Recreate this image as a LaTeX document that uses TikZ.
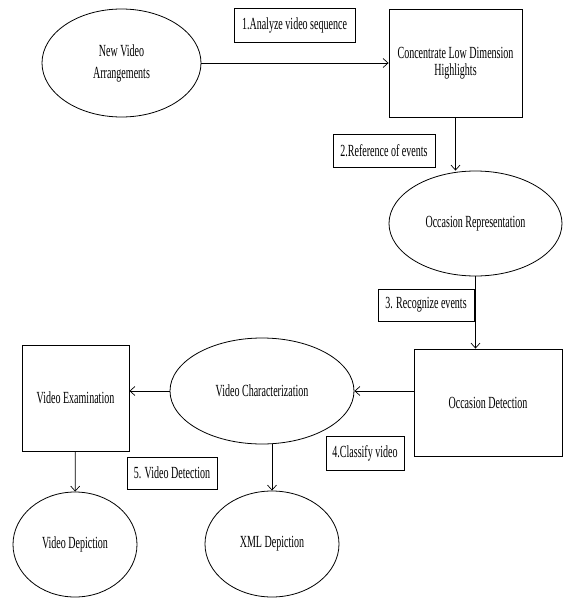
\documentclass[tikz,border=0pt]{standalone}
\usepackage{fontspec}
\setmainfont[FakeStretch=0.59]{Liberation Serif}
\usetikzlibrary{arrows.meta,shapes.geometric}

\begin{document}
\begin{tikzpicture}[
    x=1pt, y=-1pt,
    font=\fontsize{17}{20}\selectfont,
    oval/.style={ellipse, draw, line width=0.8pt, inner sep=0pt, align=center},
    box/.style={rectangle, draw, line width=0.8pt, inner sep=0pt, align=center},
    tag/.style={rectangle, draw, line width=0.7pt, inner sep=0pt, align=center},
    arrow/.style={-{Straight Barb[length=5pt,width=9pt]}, line width=0.7pt}
]
\useasboundingbox (0,0) rectangle (563,598);

% Main nodes
\node[oval, minimum width=159pt, minimum height=108pt] (nva) at (121.5,63) {New Video\\[2pt]Arrangements};
\node[box, minimum width=133pt, minimum height=108pt] (chl) at (455.5,63) {Concentrate Low Dimension\\[-3pt]Highlights};
\node[oval, minimum width=173pt, minimum height=105pt] (orep) at (475.5,223.5) {Occasion Representation};
\node[box, minimum width=148pt, minimum height=107pt] (odet) at (488,402.5) {Occasion Detection};
\node[oval, minimum width=184pt, minimum height=106pt] (vchar) at (262,391) {Video Characterization};
\node[box, minimum width=107pt, minimum height=106pt] (vexam) at (75.5,398) {Video Examination};
\node[oval, minimum width=124pt, minimum height=105pt] (vdep) at (75,544.5) {Video Depiction};
\node[oval, minimum width=134pt, minimum height=106pt] (xml) at (272,544) {XML Depiction};

% Step labels
\node[tag, minimum width=121pt, minimum height=34pt] (t1) at (294.5,25) {1.Analyze video sequence};
\node[tag, minimum width=102pt, minimum height=33pt] (t2) at (384,150.5) {2.Reference of events};
\node[tag, minimum width=96pt, minimum height=32pt] (t3) at (426,305) {3. Recognize events};
\node[tag, minimum width=78pt, minimum height=34pt] (t4) at (365,453) {4.Classify video};
\node[tag, minimum width=90pt, minimum height=32pt] (t5) at (172,473) {5. Video Detection};

% Connections
\draw[arrow] (nva) -- (chl);
\draw[arrow] (chl.south) -- (chl.south |- orep.north);
\draw[arrow] (orep.south) -- (orep.south |- odet.north);
\draw[arrow] (odet.west |- vchar.east) -- (vchar.east);
\draw[arrow] (vchar.west) -- (vchar.west -| vexam.east);
\draw[arrow] (vexam) -- (vdep);
\draw[arrow] (xml.north |- vchar.south) -- (xml.north);

\end{tikzpicture}
\end{document}
